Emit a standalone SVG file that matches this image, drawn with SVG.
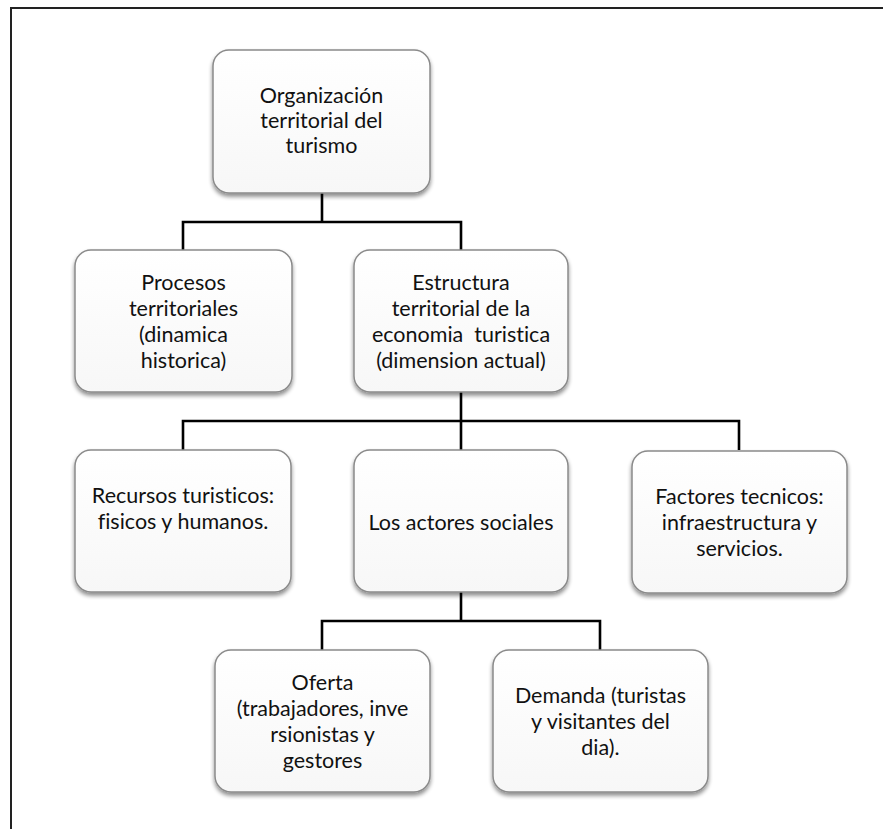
<svg xmlns="http://www.w3.org/2000/svg" width="883" height="829" viewBox="0 0 883 829">
<style>
.box{fill:url(#g);stroke:#8a8a8a;stroke-width:1.5;filter:url(#sh)}
.t{font-family:Lato,"Open Sans","Liberation Sans",sans-serif;font-size:21.5px;font-variant-ligatures:none;fill:#111;text-anchor:middle;dominant-baseline:central}
.c{fill:none;stroke:#000;stroke-width:2.6}
</style>
<defs>
<linearGradient id="g" x1="0" y1="0" x2="0" y2="1"><stop offset="0" stop-color="#ffffff"/><stop offset="1" stop-color="#f7f7f7"/></linearGradient>
<filter id="sh" x="-10%" y="-10%" width="120%" height="125%"><feGaussianBlur in="SourceAlpha" stdDeviation="2"/><feOffset dx="0" dy="3" result="b"/><feComponentTransfer><feFuncA type="linear" slope="0.45"/></feComponentTransfer><feMerge><feMergeNode/><feMergeNode in="SourceGraphic"/></feMerge></filter>
</defs>
<rect width="883" height="829" fill="#fff"/>
<path d="M11 829V8H883" fill="none" stroke="#222" stroke-width="2"/>
<g id="connectors">
<path class="c" d="M322 193V222M183 250V222H461V250"/>
<path class="c" d="M461 392V421M183 450V421H739V450M461 421V450"/>
<path class="c" d="M461 592V621M322 650V621H600V650"/>
</g>
<g id="n1"><rect class="box" x="213" y="50" width="217" height="143" rx="16"/>
<text class="t" x="321.5" y="95">Organización</text><text class="t" x="321.5" y="120">territorial del</text><text class="t" x="321.5" y="145">turismo</text></g>
<g id="n2"><rect class="box" x="75" y="250" width="217" height="142" rx="16"/>
<text class="t" x="183.5" y="282">Procesos</text><text class="t" x="183.5" y="308">territoriales</text><text class="t" x="183.5" y="334">(dinamica</text><text class="t" x="183.5" y="360">historica)</text></g>
<g id="n3"><rect class="box" x="354" y="250" width="214" height="142" rx="16"/>
<text class="t" x="461" y="282">Estructura</text><text class="t" x="461" y="308">territorial de la</text><text class="t" x="461" y="334" xml:space="preserve">economia  turistica</text><text class="t" x="461" y="360">(dimension actual)</text></g>
<g id="n4"><rect class="box" x="75" y="450" width="216" height="142" rx="16"/>
<text class="t" x="183" y="495">Recursos turisticos:</text><text class="t" x="183" y="521">fisicos y humanos.</text></g>
<g id="n5"><rect class="box" x="354" y="450" width="214" height="142" rx="16"/>
<text class="t" x="461" y="522">Los actores sociales</text></g>
<g id="n6"><rect class="box" x="632" y="451" width="215" height="142" rx="16"/>
<text class="t" x="739.5" y="496">Factores tecnicos:</text><text class="t" x="739.5" y="522">infraestructura y</text><text class="t" x="739.5" y="548">servicios.</text></g>
<g id="n7"><rect class="box" x="215" y="650" width="215" height="142" rx="16"/>
<text class="t" x="322.5" y="682">Oferta</text><text class="t" x="322.5" y="708">(trabajadores, inve</text><text class="t" x="322.5" y="734">rsionistas y</text><text class="t" x="322.5" y="760">gestores</text></g>
<g id="n8"><rect class="box" x="493" y="650" width="215" height="142" rx="16"/>
<text class="t" x="600.5" y="695">Demanda (turistas</text><text class="t" x="600.5" y="721">y visitantes del</text><text class="t" x="600.5" y="747">dia).</text></g>
</svg>
